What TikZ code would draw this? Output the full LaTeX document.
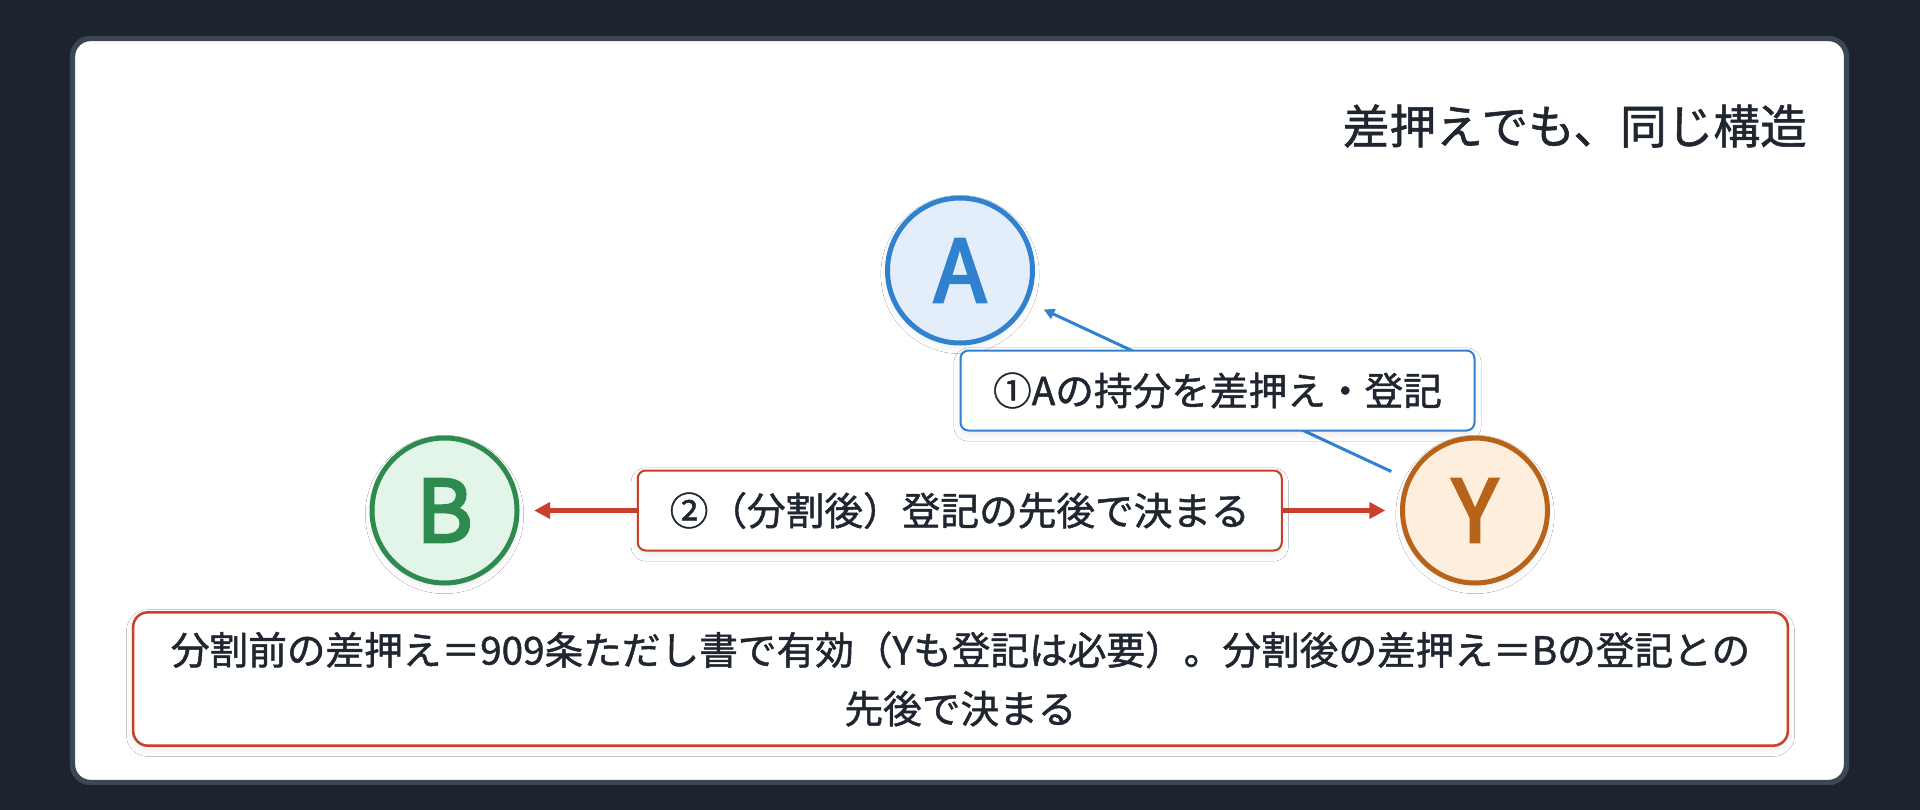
\documentclass[tikz,border=0pt]{standalone}
\usepackage{fontspec}
\setmainfont{Noto Sans CJK JP}[FakeBold=1.2]
\newfontfamily\letterfont{Noto Sans CJK JP}[FakeBold=3.5]
\usetikzlibrary{arrows.meta,shadows.blur}
\definecolor{bgdark}{HTML}{1E242E}
\definecolor{cardline}{HTML}{3C4656}
\definecolor{inkdark}{HTML}{1F2630}
\definecolor{blueC}{HTML}{3182CE}
\definecolor{blueF}{HTML}{E3EEFA}
\definecolor{greenC}{HTML}{2E8B50}
\definecolor{greenF}{HTML}{E3F5E9}
\definecolor{orangeC}{HTML}{B8631A}
\definecolor{orangeF}{HTML}{FDEEDD}
\definecolor{redC}{HTML}{C8402C}
\begin{document}
\begin{tikzpicture}[x=0.75pt,y=-0.75pt,
  softshadow/.style={blur shadow={shadow xshift=0pt, shadow yshift=-3pt, shadow blur radius=5pt, shadow opacity=8}},
  circ/.style={circle, line width=3.75pt, minimum size=108.75pt, inner sep=0pt, font=\letterfont\fontsize{64}{64}\selectfont, softshadow},
  bluelink/.style={draw=blueC, line width=2.25pt, -{Triangle[length=8pt,width=8pt]}, shorten >=13pt, shorten <=13pt},
  redlink/.style={draw=redC, line width=3.75pt, {Triangle[length=12pt,width=12pt]}-{Triangle[length=12pt,width=12pt]}, shorten >=11pt, shorten <=11pt},
  labelbox/.style={fill=white, rounded corners=6pt, line width=1.5pt, text=inkdark, inner sep=0pt, font=\fontsize{29}{36}\selectfont, softshadow},
  bluelabel/.style={labelbox, draw=blueC, minimum width=385.5pt, minimum height=60pt},
  redlabel/.style={labelbox, draw=redC, minimum width=483pt, minimum height=60pt},
  notebox/.style={draw=redC, fill=white, rounded corners=11pt, line width=1.9pt, text=inkdark, align=center, inner sep=0pt, minimum width=1241pt, minimum height=100pt, font=\fontsize{29}{44}\selectfont, softshadow},
  titletext/.style={text=inkdark, inner sep=0pt, font=\fontsize{35}{40}\selectfont}
]
\fill[bgdark] (0,0) rectangle (1920,810);
\useasboundingbox (0,0) rectangle (1920,810);
\draw[draw=cardline, fill=white, line width=4pt, rounded corners=13.5pt] (72.5,38.5) rectangle (1846.5,782.5);
\node[titletext, anchor=east] (title) at (1807,126) {差押えでも、同じ構造};
\node[circ, draw=blueC, fill=blueF, text=blueC] (A) at (960,270.5) {A};
\node[circ, draw=greenC, fill=greenF, text=greenC] (B) at (444.5,510.5) {B};
\node[circ, draw=orangeC, fill=orangeF, text=orangeC] (Y) at (1475,510.5) {Y};
\draw[bluelink] (Y) -- node[bluelabel] (l1) {①Aの持分を差押え・登記} (A);
\draw[redlink] (B) -- node[redlabel] (l2) {②（分割後）登記の先後で決まる} (Y);
\node[notebox] (note) at (960.5,679) {分割前の差押え＝909条ただし書で有効（Yも登記は必要）。分割後の差押え＝Bの登記との\\先後で決まる};
\end{tikzpicture}
\end{document}
